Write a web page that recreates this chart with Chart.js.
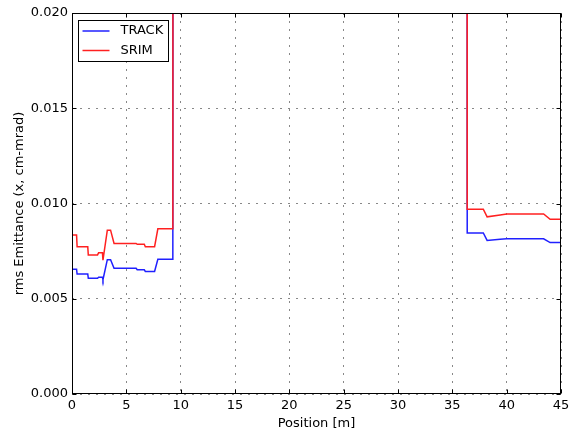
<!DOCTYPE html>
<html>
<head>
<meta charset="utf-8">
<script src="https://cdn.jsdelivr.net/npm/chart.js@4/dist/chart.umd.min.js"></script>
<style>
  html, body { margin: 0; padding: 0; background: #fff; }
  #wrap { width: 581px; height: 435px; }
</style>
</head>
<body>
<div id="wrap"><canvas id="c" width="581" height="435"></canvas></div>
<script>
// rms emittance along the line, two codes compared (null = no data in the gap)
const trackPos = [0, 0.42, 0.47, 1.45, 1.5, 2.35, 2.45, 2.8, 2.85, 3.25, 3.55, 3.87, 5.9, 6.0, 6.65, 6.75, 7.6, 7.9, 9.28, 9.3, 22,
                  36.35, 36.37, 37.85, 38.2, 39.4, 40.0, 43.4, 44.0, 45];
const trackRms = [0.00655, 0.00655, 0.0063, 0.0063, 0.00607, 0.00607, 0.00613, 0.00613, 0.0060, 0.00705, 0.00705, 0.0066, 0.0066, 0.00652, 0.00652, 0.00643, 0.00643, 0.00707, 0.00707, 0.05, null,
                  0.05, 0.00845, 0.00845, 0.00806, 0.00812, 0.00815, 0.00815, 0.00795, 0.00795];

const srimPos = [0, 0.42, 0.47, 1.45, 1.5, 2.35, 2.45, 2.8, 2.85, 3.25, 3.55, 3.87, 5.9, 6.0, 6.65, 6.75, 7.6, 7.9, 9.28, 9.3, 22,
                 36.35, 36.37, 37.85, 38.2, 39.4, 40.0, 43.4, 44.0, 45];
const srimRms = [0.00835, 0.00835, 0.00773, 0.00773, 0.0073, 0.0073, 0.00742, 0.00742, 0.00703, 0.0086, 0.0086, 0.0079, 0.0079, 0.00786, 0.00786, 0.00773, 0.00773, 0.00867, 0.00867, 0.05, null,
                 0.05, 0.0097, 0.0097, 0.0093, 0.0094, 0.00945, 0.00945, 0.00917, 0.00917];

const seriesNames = ['TRACK', 'SRIM'];
const seriesColors = ['#2020ff', '#ff2020'];

const xTicks = [0, 5, 10, 15, 20, 25, 30, 35, 40, 45];
const yTicks = [0, 0.005, 0.010, 0.015, 0.020];

const FONT = 'DejaVu Sans';
const pts = (xs, ys) => xs.map((x, i) => ({ x: x, y: ys[i] }));

// matplotlib-style frame, inward ticks on all sides and boxed legend
const framePlugin = {
  id: 'frame',
  afterDraw(chart) {
    const ctx = chart.ctx;
    const a = chart.chartArea;
    const xs = chart.scales.x, ys = chart.scales.y;
    const L = Math.round(a.left) + 0.5, R = Math.round(a.right) - 0.5;
    const T = Math.round(a.top) + 0.5, B = Math.round(a.bottom) - 0.5;
    ctx.save();
    ctx.setLineDash([]);
    ctx.strokeStyle = '#000';
    ctx.lineWidth = 1;
    ctx.strokeRect(L, T, R - L, B - T);
    ctx.beginPath();
    xTicks.forEach(v => {
      const px = Math.round(xs.getPixelForValue(v)) + 0.5;
      ctx.moveTo(px, B); ctx.lineTo(px, B - 4);
      ctx.moveTo(px, T); ctx.lineTo(px, T + 4);
    });
    yTicks.forEach(v => {
      const py = Math.round(ys.getPixelForValue(v)) + 0.5;
      ctx.moveTo(L, py); ctx.lineTo(L + 4, py);
      ctx.moveTo(R, py); ctx.lineTo(R - 4, py);
    });
    ctx.stroke();

    // legend
    const lx = 78.5, ly = 20.5, lw = 90, lh = 41;
    ctx.fillStyle = '#fff';
    ctx.fillRect(lx, ly, lw, lh);
    ctx.strokeStyle = '#000';
    ctx.strokeRect(lx, ly, lw, lh);
    ctx.font = '13px "' + FONT + '"';
    ctx.textBaseline = 'middle';
    ctx.textAlign = 'left';
    seriesNames.forEach((name, i) => {
      const y = ly + 10.5 + i * 19.5;
      ctx.beginPath();
      ctx.lineWidth = 1.5;
      ctx.strokeStyle = seriesColors[i];
      ctx.moveTo(lx + 4, y); ctx.lineTo(lx + 31, y);
      ctx.stroke();
      ctx.fillStyle = '#000';
      ctx.fillText(name, lx + 42, y);
    });
    ctx.restore();
  }
};

new Chart(document.getElementById('c'), {
  type: 'line',
  data: {
    datasets: [
      { label: seriesNames[0], data: pts(trackPos, trackRms), borderColor: seriesColors[0], borderWidth: 1.5, pointRadius: 0, tension: 0, spanGaps: false, order: 1 },
      { label: seriesNames[1], data: pts(srimPos, srimRms), borderColor: seriesColors[1], borderWidth: 1.5, pointRadius: 0, tension: 0, spanGaps: false, order: 0 }
    ]
  },
  options: {
    responsive: false,
    animation: false,
    devicePixelRatio: 1,
    layout: { padding: { left: 0, right: 20, top: 13, bottom: 0 } },
    plugins: { legend: { display: false }, tooltip: { enabled: false } },
    scales: {
      x: {
        type: 'linear', min: 0, max: 45,
        afterBuildTicks: s => { s.ticks = xTicks.map(v => ({ value: v })); },
        afterFit: s => { s.height = 41; },
        grid: { color: '#888', lineWidth: 1, drawTicks: false },
        border: { display: false, dash: [2, 6] },
        ticks: { color: '#000', font: { family: FONT, size: 13 }, padding: 4, maxRotation: 0, callback: v => String(v) },
        title: { display: true, text: 'Position [m]', color: '#000', font: { family: FONT, size: 13 }, padding: { top: 1, bottom: 4 } }
      },
      y: {
        type: 'linear', min: 0, max: 0.02,
        afterBuildTicks: s => { s.ticks = yTicks.map(v => ({ value: v })); },
        afterFit: s => { s.width = 72; },
        grid: { color: '#888', lineWidth: 1, drawTicks: false },
        border: { display: false, dash: [2, 6] },
        ticks: { color: '#000', font: { family: FONT, size: 13 }, padding: 4, callback: v => v.toFixed(3) },
        title: { display: true, text: 'rms Emittance (x, cm-mrad)', color: '#000', font: { family: FONT, size: 13 }, padding: { top: 12, bottom: 0 } }
      }
    }
  },
  plugins: [framePlugin]
});
</script>
</body>
</html>
